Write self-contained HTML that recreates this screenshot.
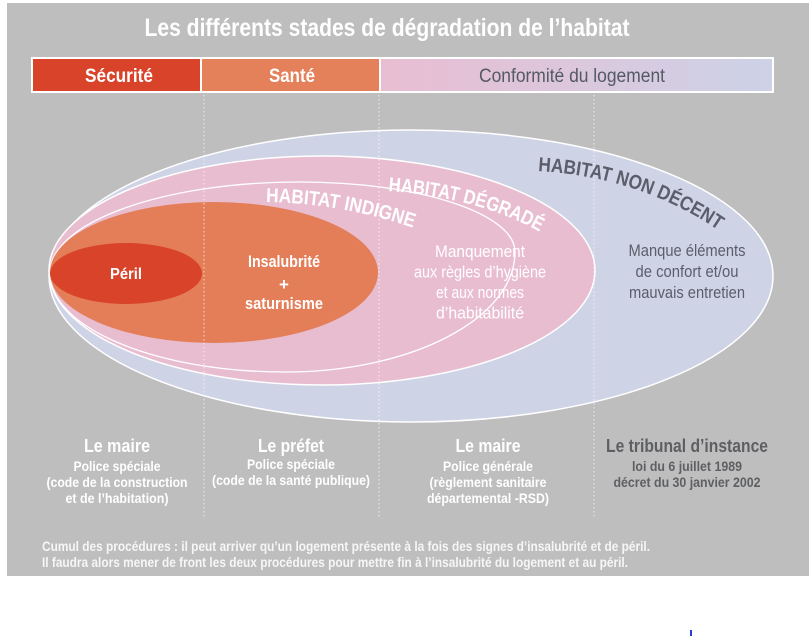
<!DOCTYPE html>
<html><head><meta charset="utf-8"><style>
html,body{margin:0;padding:0;background:#fff;}
svg{display:block;}
text{font-family:"Liberation Sans",sans-serif;}
</style></head><body>
<svg width="812" height="636" viewBox="0 0 812 636" xmlns="http://www.w3.org/2000/svg">
<defs>
<linearGradient id="cg" x1="0" x2="1" y1="0" y2="0">
<stop offset="0" stop-color="#e9bdd2"/><stop offset="1" stop-color="#cdd2e7"/>
</linearGradient>
<path id="pInd" d="M266,202 Q340,203 414,228"/>
<path id="pDeg" d="M388,191 Q480,198 540,232"/>
<path id="pNon" d="M538,171 Q640,177 718,230"/>
</defs>
<rect x="0" y="0" width="812" height="636" fill="#fff"/>
<rect x="7" y="3" width="802" height="573" fill="#bebebe"/>

<text x="387" y="36" text-anchor="middle" font-size="25" font-weight="bold" fill="#fff" textLength="485" lengthAdjust="spacingAndGlyphs">Les différents stades de dégradation de l’habitat</text>

<!-- bar -->
<rect x="31" y="57" width="743" height="36" fill="#fff"/>
<rect x="33" y="59" width="167" height="32" fill="#d8432a"/>
<rect x="202" y="59" width="177" height="32" fill="#e4805a"/>
<rect x="381" y="59" width="391" height="32" fill="url(#cg)"/>
<text x="119" y="82" text-anchor="middle" font-size="19" font-weight="bold" fill="#fff" textLength="68" lengthAdjust="spacingAndGlyphs">Sécurité</text>
<text x="292" y="82" text-anchor="middle" font-size="19" font-weight="bold" fill="#fff" textLength="46" lengthAdjust="spacingAndGlyphs">Santé</text>
<text x="572" y="82" text-anchor="middle" font-size="19" fill="#555965" textLength="186" lengthAdjust="spacingAndGlyphs">Conformité du logement</text>

<!-- ellipses -->
<ellipse cx="411" cy="276" rx="362" ry="146" fill="#ced3e6" stroke="#fff" stroke-width="1.5"/>
<ellipse cx="322" cy="270.5" rx="273" ry="114.5" fill="#e9bdd0" stroke="#fff" stroke-width="1.5"/>
<path d="M50,273 C50,222.7 161.9,182 300,182 C418.7,182 515,213.3 515,252 C515,318.3 412,372 285,372 C155.2,372 50,327.7 50,273 Z" fill="none" stroke="#fff" stroke-width="1.3"/>
<ellipse cx="214" cy="272.5" rx="164" ry="70.5" fill="#e37e59"/>
<ellipse cx="126" cy="273.5" rx="76" ry="30.5" fill="#d8432a"/>

<!-- dotted lines -->
<g stroke="#ffffff" stroke-opacity="0.6" stroke-width="1.2" stroke-dasharray="1.5 2.5">
<line x1="204" y1="95" x2="204" y2="517"/>
<line x1="379" y1="95" x2="379" y2="517"/>
<line x1="594" y1="95" x2="594" y2="517"/>
</g>

<!-- curved labels -->
<text font-size="20" font-weight="bold" fill="#fff"><textPath href="#pInd" textLength="150" lengthAdjust="spacingAndGlyphs">HABITAT INDIGNE</textPath></text>
<text font-size="20" font-weight="bold" fill="#fff"><textPath href="#pDeg" textLength="158" lengthAdjust="spacingAndGlyphs">HABITAT DÉGRADÉ</textPath></text>
<text font-size="20" font-weight="bold" fill="#5b5e6a"><textPath href="#pNon" textLength="192" lengthAdjust="spacingAndGlyphs">HABITAT NON DÉCENT</textPath></text>

<!-- inner texts -->
<text x="126" y="279" text-anchor="middle" font-size="16" font-weight="bold" fill="#fff" textLength="32" lengthAdjust="spacingAndGlyphs">Péril</text>
<text x="284" y="267" text-anchor="middle" font-size="17" font-weight="bold" fill="#fff" textLength="72" lengthAdjust="spacingAndGlyphs">Insalubrité</text>
<text x="284" y="290" text-anchor="middle" font-size="17" font-weight="bold" fill="#fff">+</text>
<text x="284" y="309" text-anchor="middle" font-size="17" font-weight="bold" fill="#fff" textLength="78" lengthAdjust="spacingAndGlyphs">saturnisme</text>

<g font-size="16.5" fill="#fff" text-anchor="middle">
<text x="480" y="257" textLength="90" lengthAdjust="spacingAndGlyphs">Manquement</text>
<text x="480" y="277.5" textLength="132" lengthAdjust="spacingAndGlyphs">aux règles d’hygiène</text>
<text x="480" y="298" textLength="88" lengthAdjust="spacingAndGlyphs">et aux normes</text>
<text x="480" y="318.5" textLength="88" lengthAdjust="spacingAndGlyphs">d’habitabilité</text>
</g>
<g font-size="16.5" fill="#5b5e6a" text-anchor="middle">
<text x="687" y="256" textLength="117" lengthAdjust="spacingAndGlyphs">Manque éléments</text>
<text x="687" y="277" textLength="103" lengthAdjust="spacingAndGlyphs">de confort et/ou</text>
<text x="687" y="298" textLength="116" lengthAdjust="spacingAndGlyphs">mauvais entretien</text>
</g>

<!-- bottom columns -->
<g text-anchor="middle" font-weight="bold" fill="#fff">
<text x="117" y="452" font-size="18" textLength="66" lengthAdjust="spacingAndGlyphs">Le maire</text>
<text x="117" y="471" font-size="14" textLength="87" lengthAdjust="spacingAndGlyphs">Police spéciale</text>
<text x="117" y="487" font-size="14" textLength="141" lengthAdjust="spacingAndGlyphs">(code de la construction</text>
<text x="117" y="503" font-size="14" textLength="103" lengthAdjust="spacingAndGlyphs">et de l’habitation)</text>

<text x="291" y="452" font-size="18" textLength="66" lengthAdjust="spacingAndGlyphs">Le préfet</text>
<text x="291" y="469" font-size="14" textLength="88" lengthAdjust="spacingAndGlyphs">Police spéciale</text>
<text x="291" y="485" font-size="14" textLength="158" lengthAdjust="spacingAndGlyphs">(code de la santé publique)</text>

<text x="488" y="452" font-size="18" textLength="65" lengthAdjust="spacingAndGlyphs">Le maire</text>
<text x="488" y="471" font-size="14" textLength="90" lengthAdjust="spacingAndGlyphs">Police générale</text>
<text x="488" y="487" font-size="14" textLength="117" lengthAdjust="spacingAndGlyphs">(règlement sanitaire</text>
<text x="488" y="503" font-size="14" textLength="122" lengthAdjust="spacingAndGlyphs">départemental -RSD)</text>
</g>
<g text-anchor="middle" font-weight="bold" fill="#5e5f63">
<text x="687" y="452" font-size="18" textLength="162" lengthAdjust="spacingAndGlyphs">Le tribunal d’instance</text>
<text x="687" y="471" font-size="14" textLength="110" lengthAdjust="spacingAndGlyphs">loi du 6 juillet 1989</text>
<text x="687" y="487" font-size="14" textLength="147" lengthAdjust="spacingAndGlyphs">décret du 30 janvier 2002</text>
</g>

<!-- footnote -->
<g font-size="14" font-weight="bold" fill="#f6f6f6">
<text x="42" y="551" textLength="608" lengthAdjust="spacingAndGlyphs">Cumul des procédures : il peut arriver qu’un logement présente à la fois des signes d’insalubrité et de péril.</text>
<text x="42" y="567" textLength="586" lengthAdjust="spacingAndGlyphs">Il faudra alors mener de front les deux procédures pour mettre fin à l’insalubrité du logement et au péril.</text>
</g>

<rect x="690" y="630" width="2" height="6" fill="#2a3bd6"/>
</svg>
</body></html>
